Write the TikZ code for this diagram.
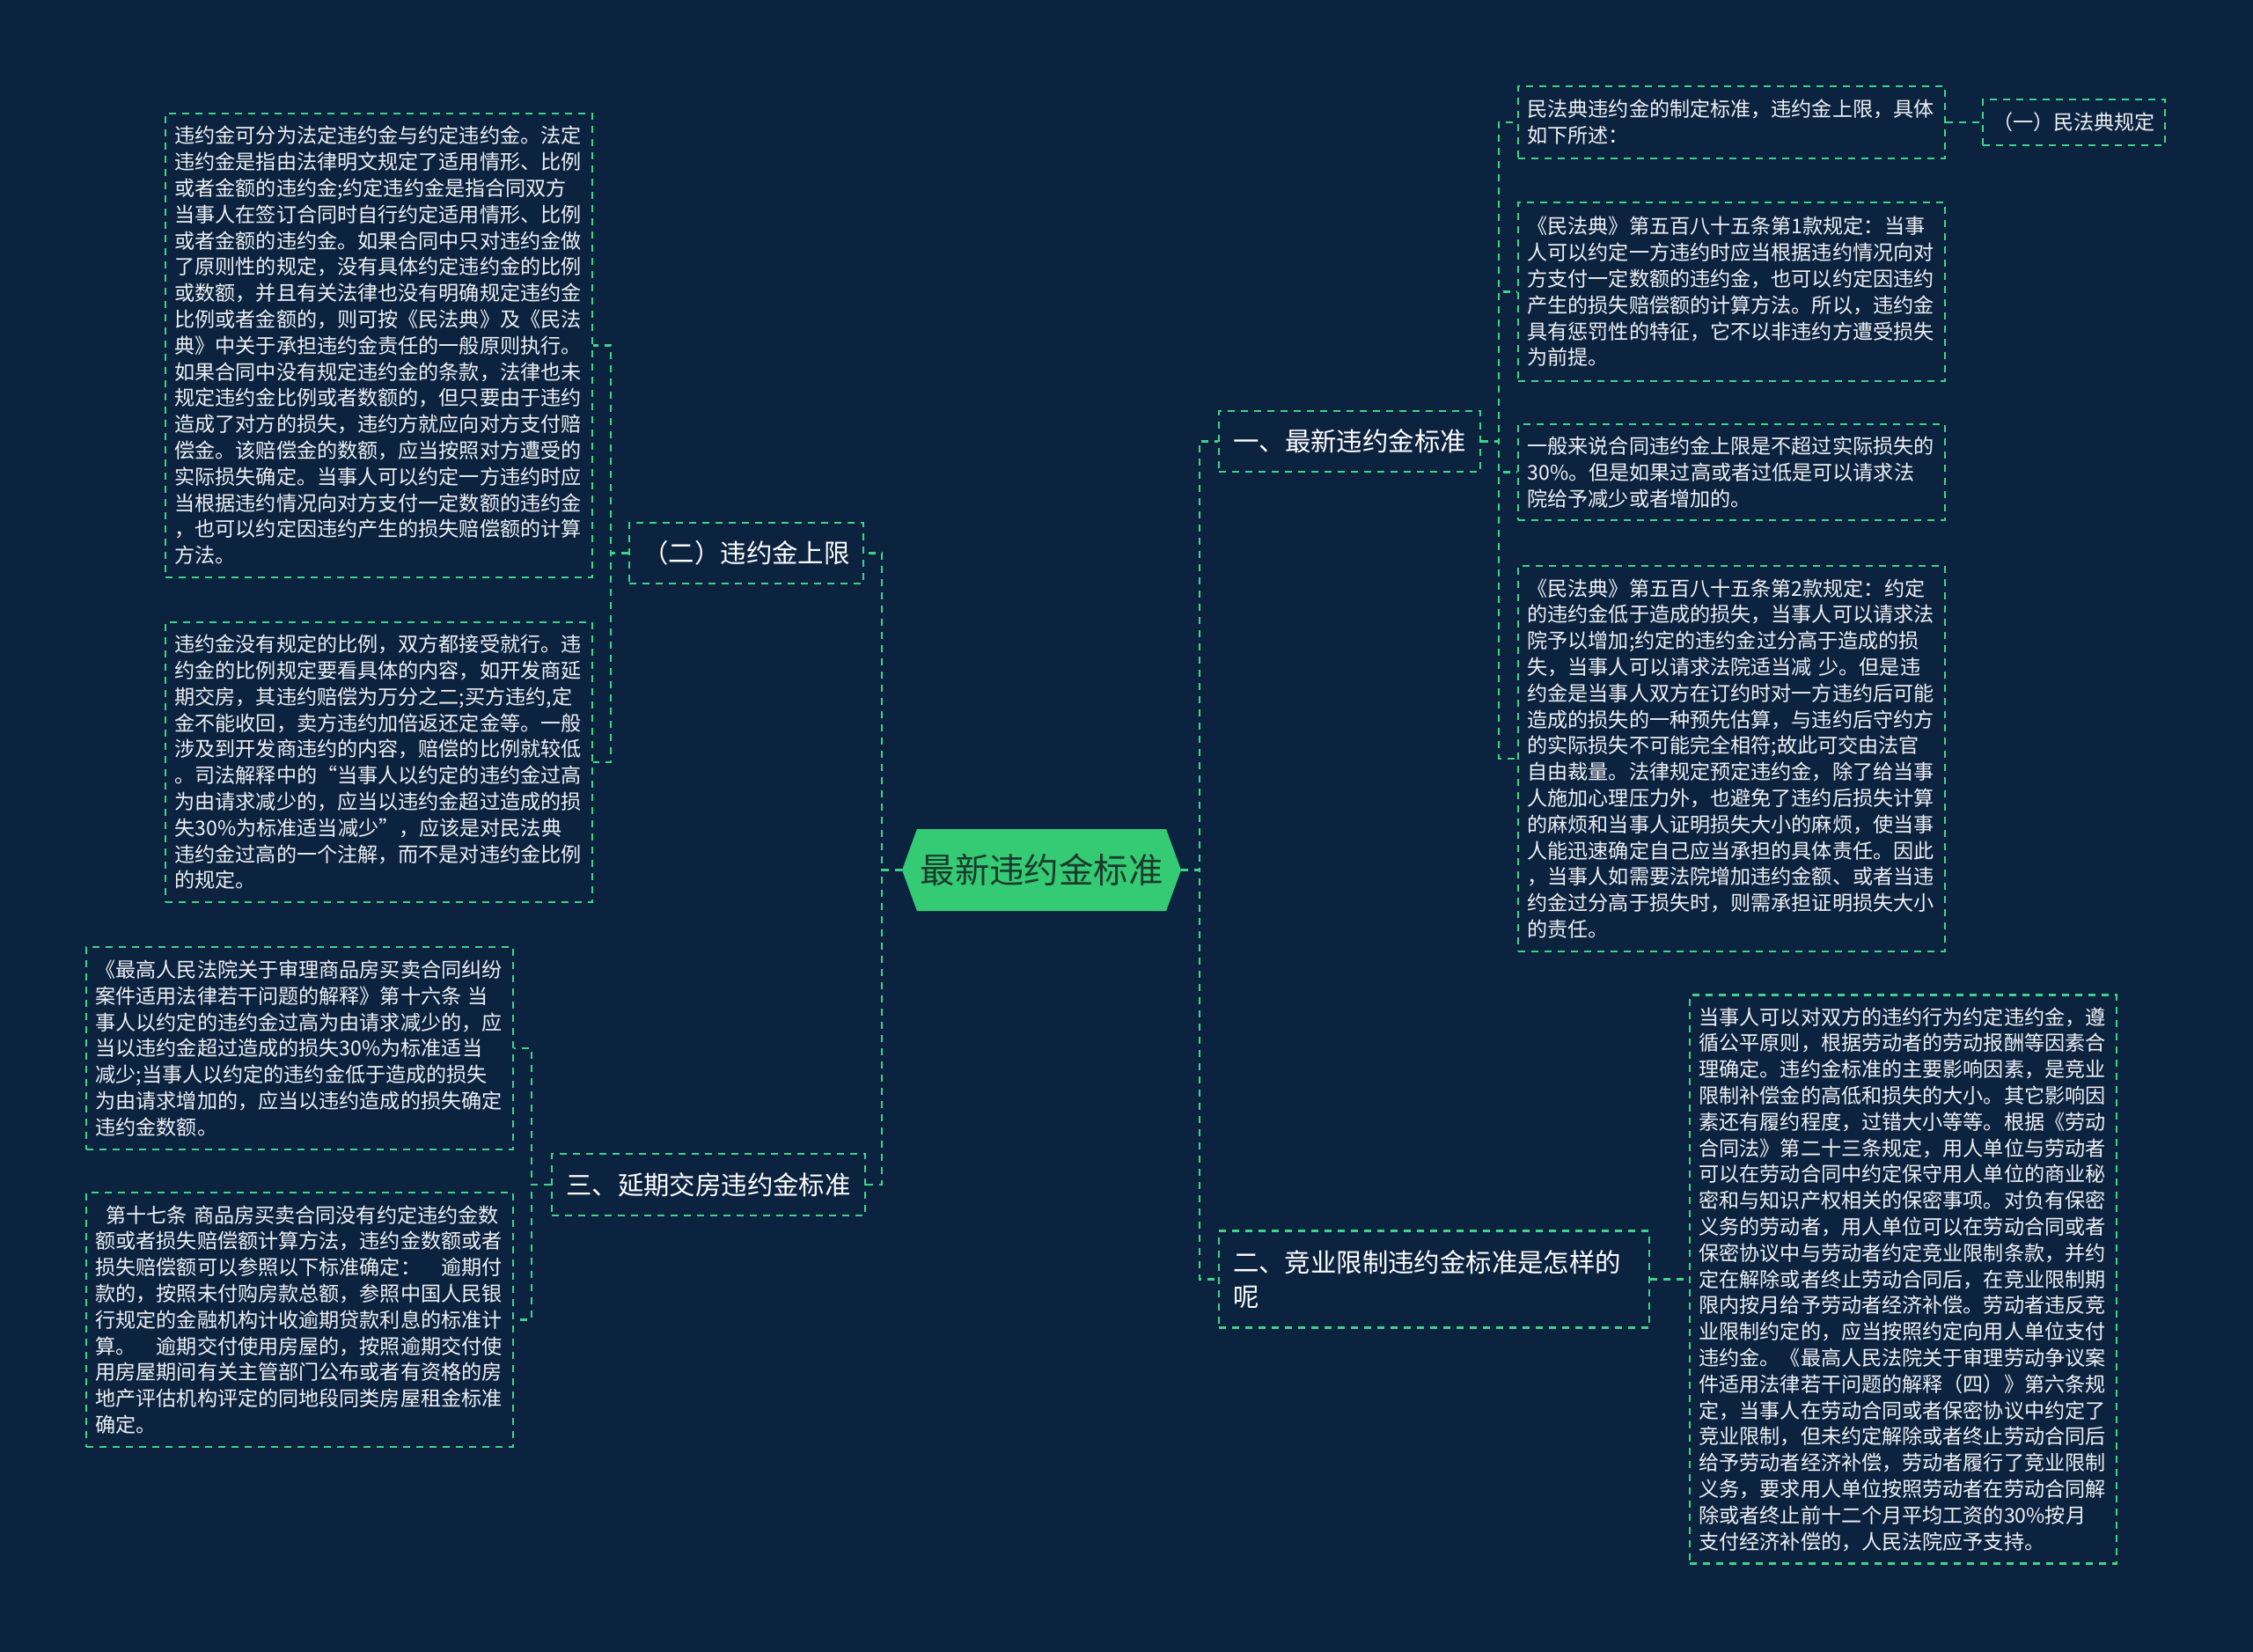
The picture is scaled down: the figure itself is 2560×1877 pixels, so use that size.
\documentclass[tikz,border=0pt]{standalone}
\usepackage{fontspec}
\setmainfont{Noto Sans CJK SC}
\usetikzlibrary{shapes.symbols}
\definecolor{bgnavy}{HTML}{0C2340}
\definecolor{linegreen}{HTML}{3ED488}
\definecolor{rootgreen}{HTML}{34CB74}
\definecolor{rootink}{HTML}{1B3A2C}
\definecolor{leafink}{HTML}{EEF1F4}

\begin{document}
\begin{tikzpicture}[x=0.5pt,y=-0.5pt,
  dashbox/.style={draw=linegreen,line width=1.3pt,dash pattern=on 4pt off 3.5pt},
  leaf/.style={dashbox,text=leafink,font=\fontsize{11.55}{14.9}\selectfont,align=left,text width=232pt,inner xsep=5.25pt,inner ysep=0pt},
  branch/.style={dashbox,text=white,font=\fontsize{14.7}{19.5}\selectfont,inner sep=0pt,minimum height=34.5pt},
  link/.style={draw=linegreen,line width=1.3pt,dash pattern=on 4pt off 3.5pt}]
\fill[bgnavy] (0,0) rectangle (2560,1877);
\useasboundingbox (0,0) rectangle (2560,1877);

\node[shape=signal,signal to=east and west,signal pointer angle=140,fill=rootgreen,text=rootink,font=\fontsize{19.7}{24}\selectfont,minimum width=158.5pt,minimum height=46.5pt,inner sep=0pt] (R) at (1183.5,988.5) {最新违约金标准};

\node[branch,minimum width=148.5pt] (B1) at (1533.5,501.5) {一、最新违约金标准};
\node[branch,minimum width=244.5pt,minimum height=55pt,align=left,text width=228.5pt,inner xsep=8pt] (B4) at (1629.5,1453.5) {二、竞业限制违约金标准是怎样的\\呢};
\node[branch,minimum width=133pt] (B2) at (848,628.5) {（二）违约金上限};
\node[branch,minimum width=178pt,minimum height=35pt] (B3) at (805,1346) {三、延期交房违约金标准};

\node[leaf,minimum height=263.5pt] (L1) at (430.5,392.5) {违约金可分为法定违约金与约定违约金。法定\\违约金是指由法律明文规定了适用情形、比例\\或者金额的违约金;约定违约金是指合同双方\\当事人在签订合同时自行约定适用情形、比例\\或者金额的违约金。如果合同中只对违约金做\\了原则性的规定，没有具体约定违约金的比例\\或数额，并且有关法律也没有明确规定违约金\\比例或者金额的，则可按《民法典》及《民法\\典》中关于承担违约金责任的一般原则执行。\\如果合同中没有规定违约金的条款，法律也未\\规定违约金比例或者数额的，但只要由于违约\\造成了对方的损失，违约方就应向对方支付赔\\偿金。该赔偿金的数额，应当按照对方遭受的\\实际损失确定。当事人可以约定一方违约时应\\当根据违约情况向对方支付一定数额的违约金\\，也可以约定因违约产生的损失赔偿额的计算\\方法。};
\node[leaf,minimum height=159pt] (L2) at (430.5,866) {违约金没有规定的比例，双方都接受就行。违\\约金的比例规定要看具体的内容，如开发商延\\期交房，其违约赔偿为万分之二;买方违约,定\\金不能收回，卖方违约加倍返还定金等。一般\\涉及到开发商违约的内容，赔偿的比例就较低\\。司法解释中的“当事人以约定的违约金过高\\为由请求减少的，应当以违约金超过造成的损\\失30\%为标准适当减少”，应该是对民法典\\违约金过高的一个注解，而不是对违约金比例\\的规定。};
\node[leaf,minimum height=115pt] (L3) at (340.5,1191) {《最高人民法院关于审理商品房买卖合同纠纷\\案件适用法律若干问题的解释》第十六条 当\\事人以约定的违约金过高为由请求减少的，应\\当以违约金超过造成的损失30\%为标准适当\\减少;当事人以约定的违约金低于造成的损失\\为由请求增加的，应当以违约造成的损失确定\\违约金数额。};
\node[leaf,minimum height=144.5pt] (L4) at (340.5,1499.5) {\hspace*{.5em}第十七条 商品房买卖合同没有约定违约金数\\额或者损失赔偿额计算方法，违约金数额或者\\损失赔偿额可以参照以下标准确定：　逾期付\\款的，按照未付购房款总额，参照中国人民银\\行规定的金融机构计收逾期贷款利息的标准计\\算。　逾期交付使用房屋的，按照逾期交付使\\用房屋期间有关主管部门公布或者有资格的房\\地产评估机构评定的同地段同类房屋租金标准\\确定。};

\node[leaf,minimum height=41pt] (R1) at (1967.5,139) {民法典违约金的制定标准，违约金上限，具体\\如下所述：};
\node[dashbox,text=leafink,font=\fontsize{11.55}{14.9}\selectfont,inner sep=0pt,minimum width=103.5pt,minimum height=26pt] (R1a) at (2356.5,139) {（一）民法典规定};
\node[leaf,minimum height=101.5pt] (R2) at (1967.5,331.5) {《民法典》第五百八十五条第1款规定：当事\\人可以约定一方违约时应当根据违约情况向对\\方支付一定数额的违约金，也可以约定因违约\\产生的损失赔偿额的计算方法。所以，违约金\\具有惩罚性的特征，它不以非违约方遭受损失\\为前提。};
\node[leaf,minimum height=54.5pt] (R3) at (1967.5,536.5) {一般来说合同违约金上限是不超过实际损失的\\30\%。但是如果过高或者过低是可以请求法\\院给予减少或者增加的。};
\node[leaf,minimum height=219pt] (R4) at (1967.5,862) {《民法典》第五百八十五条第2款规定：约定\\的违约金低于造成的损失，当事人可以请求法\\院予以增加;约定的违约金过分高于造成的损\\失，当事人可以请求法院适当减 少。但是违\\约金是当事人双方在订约时对一方违约后可能\\造成的损失的一种预先估算，与违约后守约方\\的实际损失不可能完全相符;故此可交由法官\\自由裁量。法律规定预定违约金，除了给当事\\人施加心理压力外，也避免了违约后损失计算\\的麻烦和当事人证明损失大小的麻烦，使当事\\人能迅速确定自己应当承担的具体责任。因此\\，当事人如需要法院增加违约金额、或者当违\\约金过分高于损失时，则需承担证明损失大小\\的责任。};
\node[leaf,minimum height=323pt] (R5) at (2162.5,1453.5) {当事人可以对双方的违约行为约定违约金，遵\\循公平原则，根据劳动者的劳动报酬等因素合\\理确定。违约金标准的主要影响因素，是竞业\\限制补偿金的高低和损失的大小。其它影响因\\素还有履约程度，过错大小等等。根据《劳动\\合同法》第二十三条规定，用人单位与劳动者\\可以在劳动合同中约定保守用人单位的商业秘\\密和与知识产权相关的保密事项。对负有保密\\义务的劳动者，用人单位可以在劳动合同或者\\保密协议中与劳动者约定竞业限制条款，并约\\定在解除或者终止劳动合同后，在竞业限制期\\限内按月给予劳动者经济补偿。劳动者违反竞\\业限制约定的，应当按照约定向用人单位支付\\违约金。《最高人民法院关于审理劳动争议案\\件适用法律若干问题的解释（四）》第六条规\\定，当事人在劳动合同或者保密协议中约定了\\竞业限制，但未约定解除或者终止劳动合同后\\给予劳动者经济补偿，劳动者履行了竞业限制\\义务，要求用人单位按照劳动者在劳动合同解\\除或者终止前十二个月平均工资的30\%按月\\支付经济补偿的，人民法院应予支持。};

\coordinate (jR) at (1363,0);
\coordinate (jL) at (1002,0);
\coordinate (jB1) at (1703,0);
\coordinate (jB2) at (694,0);
\coordinate (jB3) at (604,0);

\draw[link] (R.east) -- (R.east -| jR) |- (B1.west);
\draw[link] (R.east) -- (R.east -| jR) |- (B4.west);
\draw[link] (R.west) -- (R.west -| jL) |- (B2.east);
\draw[link] (R.west) -- (R.west -| jL) |- (B3.east);

\draw[link] (B1.east) -- (B1.east -| jB1) |- (R1.west);
\draw[link] (B1.east) -- (B1.east -| jB1) |- (R2.west);
\draw[link] (B1.east) -- (B1.east -| jB1) |- (R3.west);
\draw[link] (B1.east) -- (B1.east -| jB1) |- (R4.west);
\draw[link] (R1.east) -- (R1a.west);
\draw[link] (B4.east) -- (R5.west);

\draw[link] (B2.west) -- (B2.west -| jB2) |- (L1.east);
\draw[link] (B2.west) -- (B2.west -| jB2) |- (L2.east);
\draw[link] (B3.west) -- (B3.west -| jB3) |- (L3.east);
\draw[link] (B3.west) -- (B3.west -| jB3) |- (L4.east);
\end{tikzpicture}
\end{document}
